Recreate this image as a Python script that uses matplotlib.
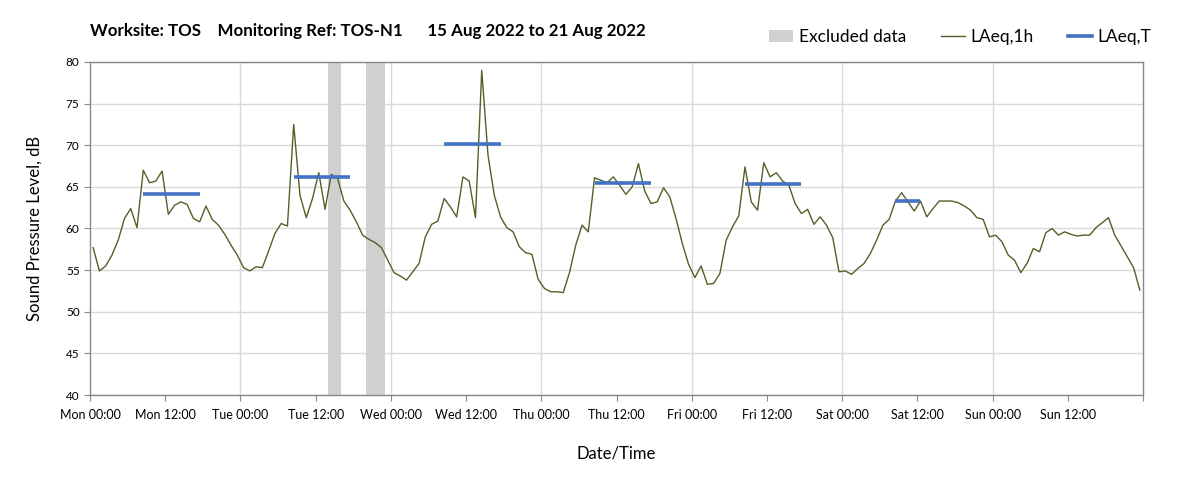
import numpy as np
import matplotlib.pyplot as plt
from matplotlib.patches import Patch
from matplotlib.lines import Line2D

plt.rcParams['font.family'] = ['Lato', 'DejaVu Sans']

# Hourly LAeq,1h values, Mon 00:00 -> Sun 23:00
laeq_1h = [
    57.7, 54.9, 55.5, 56.8, 58.6, 61.2, 62.4, 60.1, 67.0, 65.5, 65.7, 66.9,
    61.7, 62.8, 63.2, 62.9, 61.2, 60.8, 62.7, 61.1, 60.4, 59.3, 58.0, 56.8,
    55.3, 54.9, 55.4, 55.3, 57.3, 59.4, 60.6, 60.3, 72.5, 64.0, 61.3, 63.6,
    66.7, 62.3, 66.5, 66.0, 63.3, 62.2, 60.8, 59.2, 58.7, 58.3, 57.7, 56.2,
    54.7, 54.3, 53.8, 54.8, 55.8, 59.0, 60.5, 60.9, 63.6, 62.6, 61.4, 66.2,
    65.7, 61.3, 79.0, 68.8, 64.0, 61.4, 60.1, 59.6, 57.8, 57.1, 56.9, 53.9,
    52.8, 52.4, 52.4, 52.3, 54.7, 58.0, 60.4, 59.6, 66.1, 65.8, 65.5, 66.2,
    65.2, 64.1, 65.0, 67.8, 64.5, 63.0, 63.2, 64.9, 63.8, 61.2, 58.2, 55.7,
    54.1, 55.5, 53.3, 53.4, 54.6, 58.6, 60.2, 61.5, 67.4, 63.2, 62.2, 67.9,
    66.2, 66.7, 65.7, 65.2, 63.0, 61.8, 62.3, 60.5, 61.4, 60.4, 58.9, 54.8,
    54.9, 54.5, 55.2, 55.8, 57.0, 58.6, 60.4, 61.1, 63.3, 64.3, 63.2, 62.1,
    63.3, 61.4, 62.4, 63.3, 63.3, 63.3, 63.1, 62.7, 62.2, 61.3, 61.1, 59.0,
    59.2, 58.4, 56.8, 56.2, 54.7, 55.8, 57.6, 57.2, 59.5, 60.0, 59.2, 59.6,
    59.3, 59.1, 59.2, 59.2, 60.1, 60.7, 61.3, 59.2, 57.9, 56.6, 55.3, 52.6,
]

# LAeq,T periods (hours from Mon 00:00)
period_start = [8, 32, 56, 80, 104, 128]
period_end = [18, 42, 66, 90, 114, 133]
laeq_t = [64.2, 66.2, 70.1, 65.5, 65.3, 63.3]

# Excluded data periods (hours from Mon 00:00)
excl_start = [38, 44]
excl_end = [40, 47]

tick_labels = ['Mon 00:00', 'Mon 12:00', 'Tue 00:00', 'Tue 12:00', 'Wed 00:00',
               'Wed 12:00', 'Thu 00:00', 'Thu 12:00', 'Fri 00:00', 'Fri 12:00',
               'Sat 00:00', 'Sat 12:00', 'Sun 00:00', 'Sun 12:00', '']

green = '#4F6228'
blue = '#4472C4'
grey = '#D0D0D0'
grid_c = '#D9D9D9'

fig = plt.figure(figsize=(12.03, 4.90), dpi=100)
ax = fig.add_axes([90 / 1203, 1 - 395 / 490, (1143 - 90) / 1203, (395 - 62) / 490])

hours = np.arange(len(laeq_1h)) + 0.5

for s, e in zip(excl_start, excl_end):
    ax.axvspan(s, e, color=grey, lw=0, zorder=1)

ax.plot(hours, laeq_1h, color=green, lw=1.0, zorder=3)

for s, e, v in zip(period_start, period_end, laeq_t):
    ax.hlines(v, s + 0.5, e - 0.5, color=blue, lw=2.6, zorder=4)

ax.set_xlim(0, 168)
ax.set_ylim(40, 80)
ax.set_xticks(np.arange(0, 169, 12))
ax.set_xticklabels(tick_labels, fontsize=9)
ax.set_yticks(np.arange(40, 81, 5))
ax.tick_params(axis='y', labelsize=8.5, length=4, color='#888888')
ax.tick_params(axis='x', length=4, color='#888888', pad=6)

# horizontal grid at every y tick, vertical grid only at midnight
ax.grid(True, axis='y', color=grid_c, lw=1.0, zorder=0)
for d in range(24, 168, 24):
    ax.axvline(d, color=grid_c, lw=1.0, zorder=0)
ax.set_axisbelow(True)
for sp in ax.spines.values():
    sp.set_color('#888888')
    sp.set_linewidth(1.0)

ax.set_ylabel('Sound Pressure Level, dB', fontsize=12, labelpad=17)
ax.set_xlabel('Date/Time', fontsize=12, labelpad=18)

fig.text(90 / 1203, 1 - 31 / 490,
         'Worksite: TOS    Monitoring Ref: TOS-N1      15 Aug 2022 to 21 Aug 2022',
         fontsize=12.2, fontweight='bold', va='center', ha='left')

handles = [
    Patch(facecolor=grey, edgecolor='none', label='Excluded data'),
    Line2D([0], [0], color=green, lw=1.0, label='LAeq,1h'),
    Line2D([0], [0], color=blue, lw=2.6, label='LAeq,T'),
]
fig.legend(handles=handles, loc='center right', bbox_to_anchor=(1167 / 1203, 1 - 37 / 490),
           ncol=3, frameon=False, fontsize=12.5, handlelength=1.4, handletextpad=0.3,
           columnspacing=2.0)

plt.savefig('out.png', dpi=100, facecolor='white')
